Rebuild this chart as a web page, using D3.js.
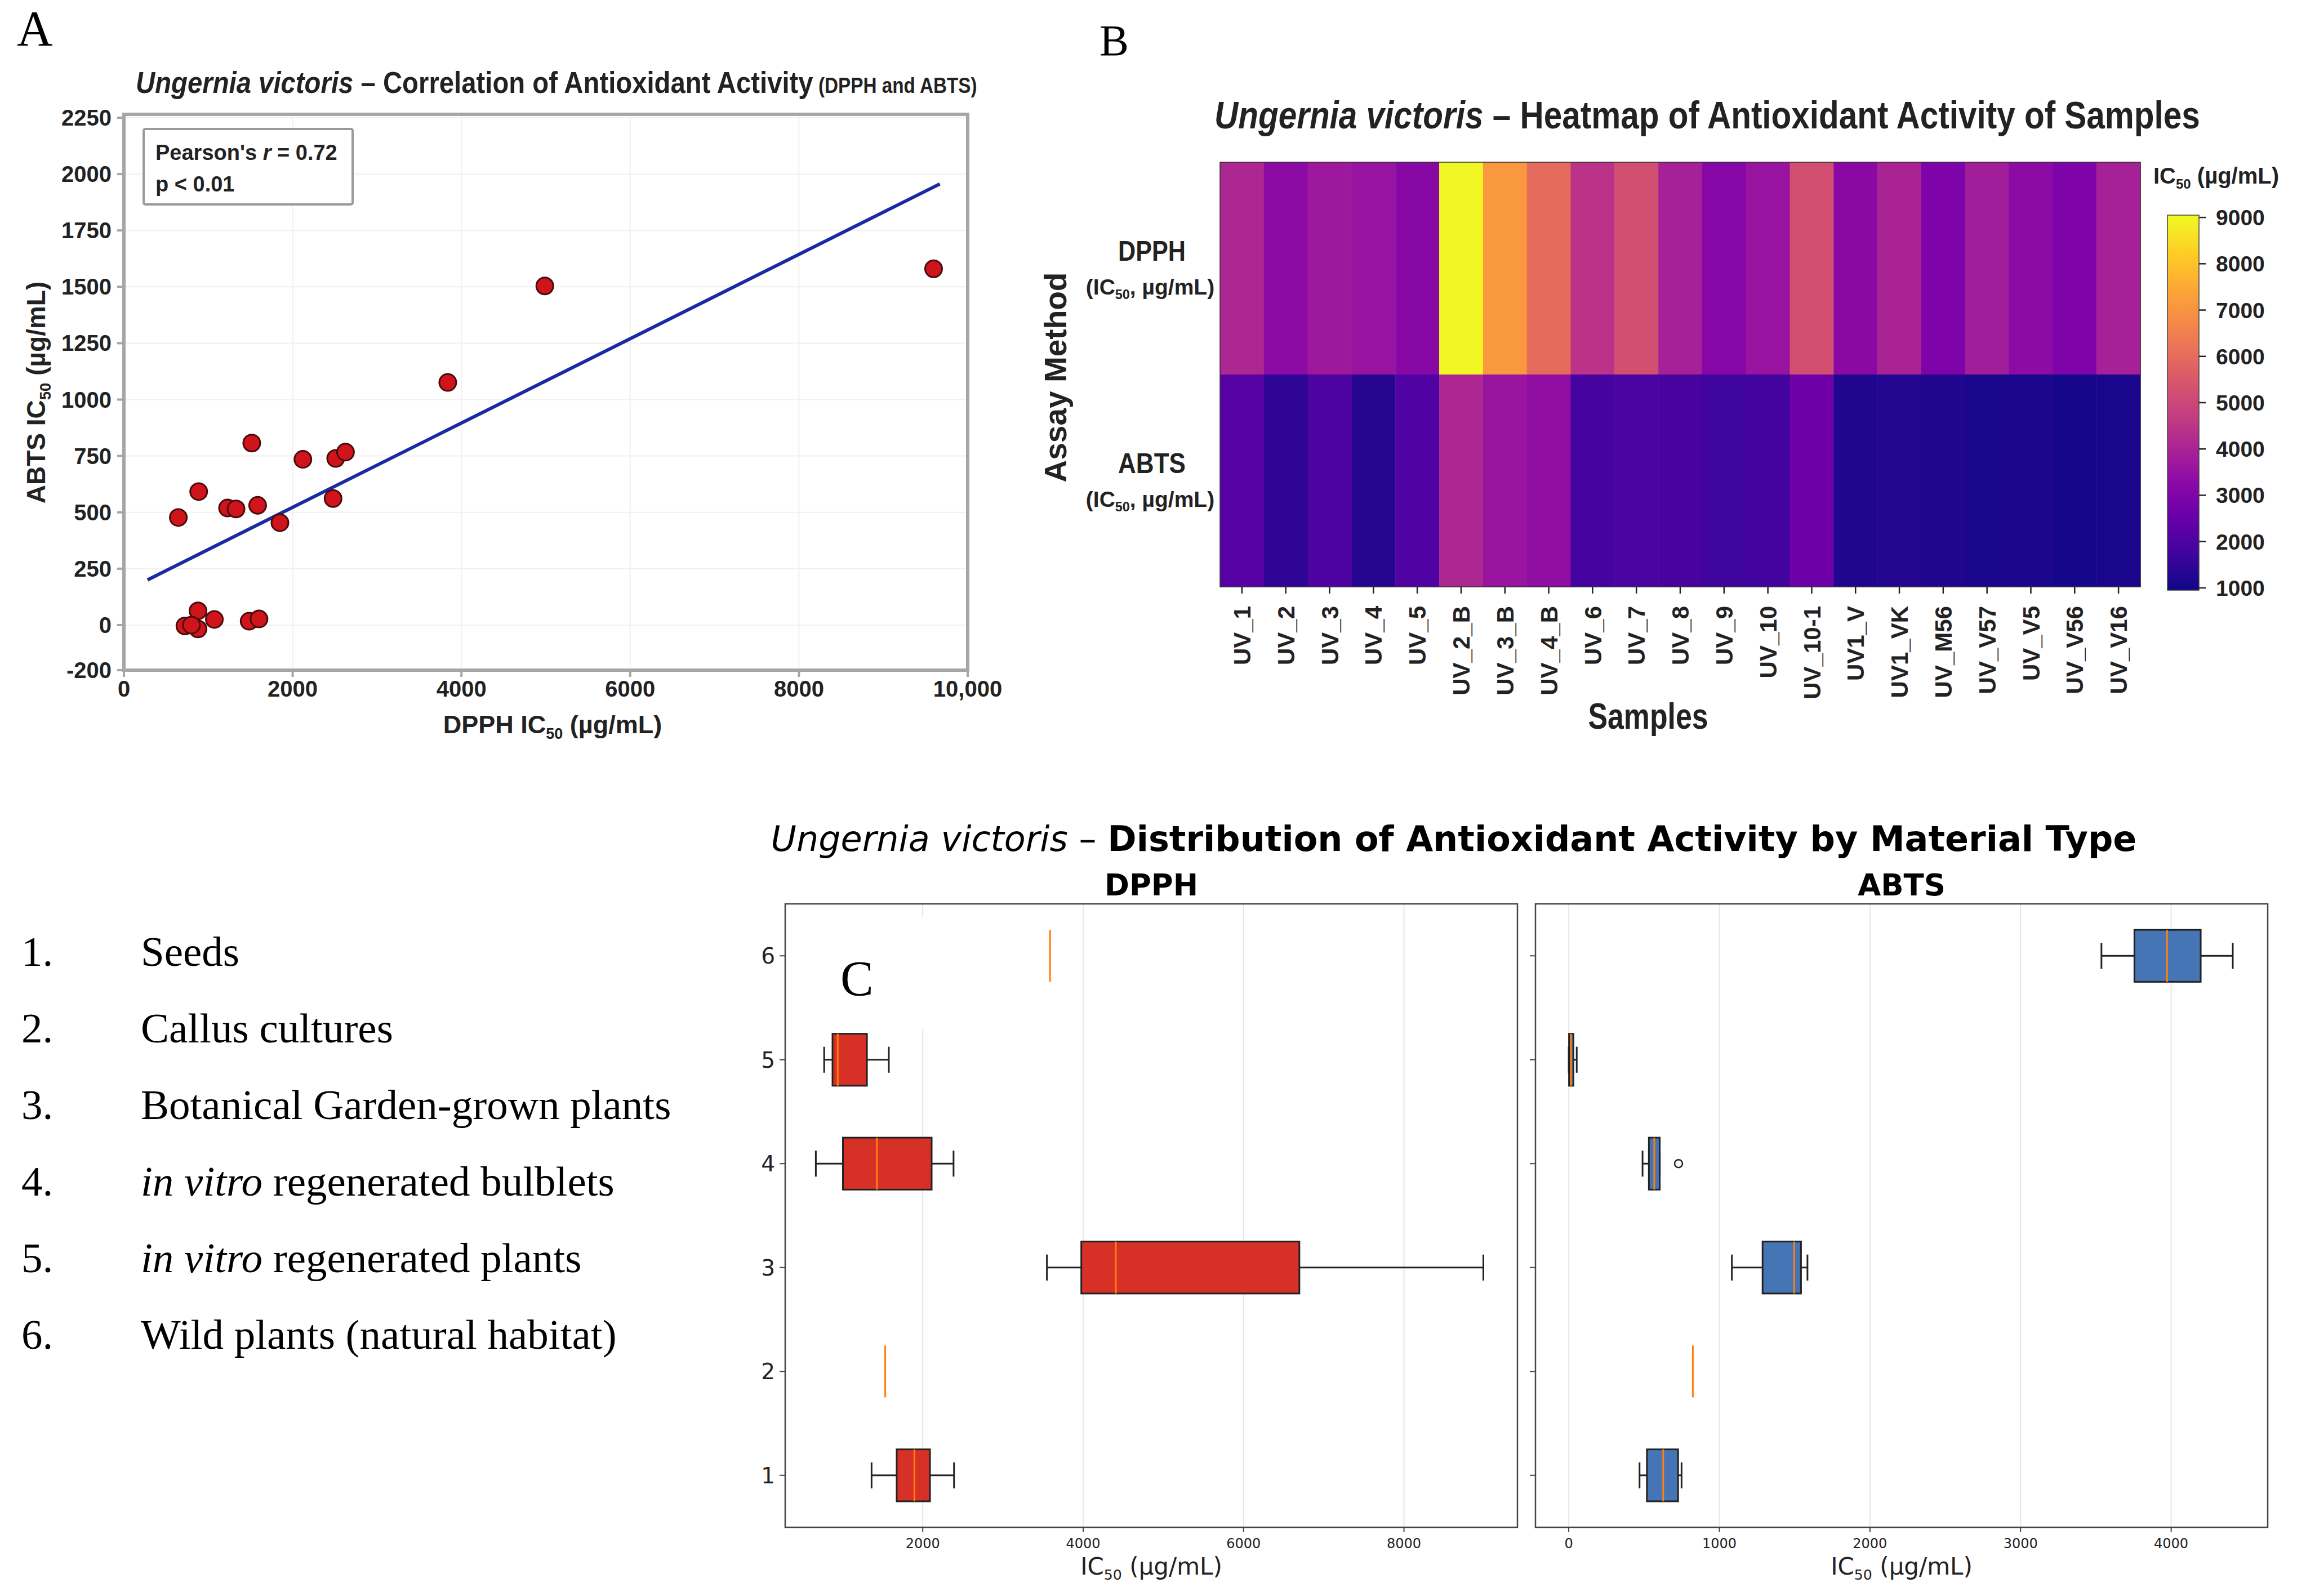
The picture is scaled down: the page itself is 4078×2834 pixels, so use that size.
<!DOCTYPE html>
<html>
<head>
<meta charset="utf-8">
<title>Ungernia victoris - antioxidant activity</title>
<script src="https://cdn.jsdelivr.net/npm/d3@7"></script>
<style>
  body { margin: 0; background: #fff; }
</style>
</head>
<body>
<script>
// ---------------- data ----------------
// A: scatter, one point per sample
var dpphScatter = [645, 886, 1515, 1228, 1329, 1585, 1849, 2121, 2479, 2510, 2626, 3838, 4988, 9596, 723, 878, 878, 1072, 1484, 1601, 800];
var abtsScatter = [477, 592, 807, 519, 515, 531, 454, 735, 561, 739, 767, 1076, 1504, 1580, -4, 63, -17, 25, 17, 27, 0];
var fitRange = [280, 9670];      // x extent of the fitted line
var fitSlope = 0.187;
var fitIntercept = 148;
var scatterXTicks = [0, 2000, 4000, 6000, 8000, 10000];
var scatterYTicks = [-200, 0, 250, 500, 750, 1000, 1250, 1500, 1750, 2000, 2250];

// B: heatmap
var samples = ["UV_1", "UV_2", "UV_3", "UV_4", "UV_5", "UV_2_B", "UV_3_B", "UV_4_B", "UV_6", "UV_7", "UV_8",
               "UV_9", "UV_10", "UV_10-1", "UV1_V", "UV1_VK", "UV_M56", "UV_V57", "UV_V5", "UV_V56", "UV_V16"];
var assays = ["DPPH", "ABTS"];
var heatDPPH = [4100, 3300, 3700, 3550, 3200, 9000, 7100, 6000, 4450, 5250, 3900,
                3150, 3550, 5250, 3250, 4000, 3000, 3800, 3300, 3000, 3900];
var heatABTS = [2160, 1440, 2000, 1280, 2080, 4100, 3600, 3400, 1850, 1900, 1870,
                1700, 1800, 2650, 1200, 1250, 1180, 1080, 1120, 1050, 1080];
var colorTicks = [1000, 2000, 3000, 4000, 5000, 6000, 7000, 8000, 9000];

// C: box plots by material type (low whisker, Q1, median, Q3, high whisker)
var materialTypes = [1, 2, 3, 4, 5, 6];
var materialItalic = ["", "", "", "in vitro", "in vitro", ""];
var materialText = ["Seeds", "Callus cultures", "Botanical Garden-grown plants",
                    " regenerated bulblets", " regenerated plants", "Wild plants (natural habitat)"];
var dpphLow = [1362, 1532, 3548, 667, 771, 3587];
var dpphQ1  = [1675, 1532, 3977, 1005, 875, 3587];
var dpphMed = [1896, 1532, 4407, 1428, 940, 3587];
var dpphQ3  = [2090, 1532, 6696, 2111, 1304, 3587];
var dpphHigh = [2390, 1532, 8990, 2384, 1577, 3587];
var abtsLow = [470, 824, 1083, 490, 0, 3537];
var abtsQ1  = [519, 824, 1287, 532, 2, 3756];
var abtsMed = [627, 824, 1497, 568, 15, 3973];
var abtsQ3  = [726, 824, 1542, 604, 31, 4196];
var abtsHigh = [749, 824, 1585, 604, 53, 4409];
var abtsOutlierType = [4];
var abtsOutlierValue = [729];
var dpphTicks = [2000, 4000, 6000, 8000];
var abtsTicks = [0, 1000, 2000, 3000, 4000];

// ---------------- setup ----------------
var W = 4078, H = 2834;
var SANS = "'Liberation Sans', Arial, sans-serif";
var DEJA = "'DejaVu Sans', sans-serif";
var SERIF = "'Liberation Serif', 'Times New Roman', serif";

var svg = d3.select("body").append("svg")
    .attr("width", W)
    .attr("height", H);
svg.append("rect").attr("width", W).attr("height", H).attr("fill", "#fff");

// text with IC50 subscript
function icText(sel, before, after, size) {
    sel.append("tspan").text(before + "IC");
    sel.append("tspan").text("50").attr("font-size", size * 0.6).attr("dy", size * 0.22);
    sel.append("tspan").text(after).attr("dy", -size * 0.22);
    return sel;
}

// the A/B figures use a condensed bold face: squeeze text horizontally to a given width
function squeeze(sel, x, y, width) {
    var len = sel.node().getComputedTextLength();
    sel.attr("transform", "translate(" + x + "," + y + ") scale(" + (width / len) + ",1)");
    return sel;
}

// panel letters
svg.append("text").text("A").attr("x", 30).attr("y", 80)
    .attr("font-family", SERIF).attr("font-size", 88);
svg.append("text").text("B").attr("x", 1952).attr("y", 98)
    .attr("font-family", SERIF).attr("font-size", 78);

// =============== PANEL A: scatter ===============
var gA = svg.append("g");
var xA = d3.scaleLinear().domain([0, 10000]).range([220, 1718]);
var yA = d3.scaleLinear().domain([-200, 2265]).range([1190, 203]);

// faint grid
gA.selectAll("line.gx").data(scatterXTicks.slice(1, -1)).enter().append("line")
    .attr("x1", xA).attr("x2", xA).attr("y1", yA(-200)).attr("y2", yA(2265))
    .attr("stroke", "#f0f0f0").attr("stroke-width", 2);
gA.selectAll("line.gy").data(scatterYTicks.slice(1)).enter().append("line")
    .attr("x1", xA(0)).attr("x2", xA(10000)).attr("y1", yA).attr("y2", yA)
    .attr("stroke", "#f0f0f0").attr("stroke-width", 2);

gA.append("rect")
    .attr("x", xA(0)).attr("y", yA(2265))
    .attr("width", xA(10000) - xA(0)).attr("height", yA(-200) - yA(2265))
    .attr("fill", "none").attr("stroke", "#a6a6a6").attr("stroke-width", 6);

// ticks
gA.selectAll("line.ty").data(scatterYTicks).enter().append("line")
    .attr("x1", xA(0) - 12).attr("x2", xA(0)).attr("y1", yA).attr("y2", yA)
    .attr("stroke", "#a6a6a6").attr("stroke-width", 4);
gA.selectAll("text.ty").data(scatterYTicks).enter().append("text")
    .text(function(d) { return d; })
    .attr("x", xA(0) - 22).attr("y", function(d) { return yA(d); })
    .attr("dy", "0.35em").attr("text-anchor", "end")
    .attr("font-family", SANS).attr("font-weight", "bold").attr("font-size", 40).attr("fill", "#222");
gA.selectAll("line.tx").data(scatterXTicks).enter().append("line")
    .attr("x1", xA).attr("x2", xA).attr("y1", yA(-200)).attr("y2", yA(-200) + 12)
    .attr("stroke", "#a6a6a6").attr("stroke-width", 4);
gA.selectAll("text.tx").data(scatterXTicks).enter().append("text")
    .text(function(d) { return d >= 10000 ? d3.format(",")(d) : d; })
    .attr("x", xA).attr("y", 1237).attr("text-anchor", "middle")
    .attr("font-family", SANS).attr("font-weight", "bold").attr("font-size", 40).attr("fill", "#222");

// regression line
gA.append("line")
    .attr("x1", xA(fitRange[0])).attr("y1", yA(fitIntercept + fitSlope * fitRange[0]))
    .attr("x2", xA(fitRange[1])).attr("y2", yA(fitIntercept + fitSlope * fitRange[1]))
    .attr("stroke", "#1c2aa0").attr("stroke-width", 6);

// points
gA.selectAll("circle").data(dpphScatter).enter().append("circle")
    .attr("cx", function(d) { return xA(d); })
    .attr("cy", function(d, i) { return yA(abtsScatter[i]); })
    .attr("r", 15)
    .attr("fill", "#d0141c").attr("stroke", "#4a0a0a").attr("stroke-width", 3);

// stats box
gA.append("rect").attr("x", 255).attr("y", 229).attr("width", 371).attr("height", 134)
    .attr("fill", "#fff").attr("stroke", "#9a9a9a").attr("stroke-width", 4).attr("rx", 3);
var pr = gA.append("text").attr("x", 276).attr("y", 284)
    .attr("font-family", SANS).attr("font-weight", "bold").attr("font-size", 38).attr("fill", "#222");
pr.append("tspan").text("Pearson's ");
pr.append("tspan").text("r").attr("font-style", "italic");
pr.append("tspan").text(" = 0.72");
gA.append("text").text("p < 0.01").attr("x", 276).attr("y", 340)
    .attr("font-family", SANS).attr("font-weight", "bold").attr("font-size", 38).attr("fill", "#222");

// title
var tA = gA.append("text")
    .attr("font-family", SANS).attr("font-weight", "bold").attr("font-size", 54).attr("fill", "#222");
tA.append("tspan").text("Ungernia victoris").attr("font-style", "italic");
tA.append("tspan").text(" \u2013 Correlation of Antioxidant Activity");
tA.append("tspan").text(" (DPPH and ABTS)").attr("font-size", 38);
squeeze(tA, 241, 165, 1494);

icText(gA.append("text").attr("x", 981).attr("y", 1302).attr("text-anchor", "middle")
    .attr("font-family", SANS).attr("font-weight", "bold").attr("font-size", 45).attr("fill", "#222"),
    "DPPH ", " (\u00b5g/mL)", 45);
icText(gA.append("text").attr("transform", "translate(80,697) rotate(-90)").attr("text-anchor", "middle")
    .attr("font-family", SANS).attr("font-weight", "bold").attr("font-size", 46).attr("fill", "#222"),
    "ABTS ", "  (\u00b5g/mL)", 46);

// =============== PANEL B: heatmap ===============
var gB = svg.append("g");
var xB = d3.scaleBand().domain(samples).range([2166, 3800]);
var yB = d3.scaleBand().domain(assays).range([288, 1042]);
var color = d3.scaleSequential(d3.interpolatePlasma).domain([950, 9050]);

var cells = [];
samples.forEach(function(s, i) {
    cells.push({ sample: s, assay: "DPPH", value: heatDPPH[i] });
    cells.push({ sample: s, assay: "ABTS", value: heatABTS[i] });
});
gB.selectAll("rect.cell").data(cells).enter().append("rect")
    .attr("class", "cell")
    .attr("x", function(d) { return xB(d.sample); })
    .attr("y", function(d) { return yB(d.assay); })
    .attr("width", xB.bandwidth() + 0.5)
    .attr("height", yB.bandwidth() + 0.5)
    .attr("fill", function(d) { return color(d.value); });
gB.append("rect").attr("x", 2166).attr("y", 288).attr("width", 1634).attr("height", 754)
    .attr("fill", "none").attr("stroke", "#333").attr("stroke-width", 1.5);

// column ticks + labels
gB.selectAll("line.ct").data(samples).enter().append("line")
    .attr("x1", function(d) { return xB(d) + xB.bandwidth() / 2; })
    .attr("x2", function(d) { return xB(d) + xB.bandwidth() / 2; })
    .attr("y1", 1042).attr("y2", 1054).attr("stroke", "#222").attr("stroke-width", 2.5);
gB.selectAll("text.cl").data(samples).enter().append("text")
    .text(function(d) { return d; })
    .attr("transform", function(d) {
        return "translate(" + (xB(d) + xB.bandwidth() / 2) + ",1076) rotate(-90)";
    })
    .attr("dy", "0.36em").attr("text-anchor", "end")
    .attr("font-family", SANS).attr("font-weight", "bold").attr("font-size", 42).attr("fill", "#222");

// row labels
assays.forEach(function(a) {
    var cy = yB(a) + yB.bandwidth() / 2;
    var rl = gB.append("text").text(a).attr("text-anchor", "middle")
        .attr("font-family", SANS).attr("font-weight", "bold").attr("font-size", 50).attr("fill", "#222");
    squeeze(rl, 2045, cy - 14, 120);
    icText(gB.append("text").attr("x", 2042).attr("y", cy + 46).attr("text-anchor", "middle")
        .attr("font-family", SANS).attr("font-weight", "bold").attr("font-size", 39).attr("fill", "#222"),
        "(", ", \u00b5g/mL)", 39);
});

gB.append("text").text("Assay Method")
    .attr("transform", "translate(1893,670) rotate(-90)").attr("text-anchor", "middle")
    .attr("font-family", SANS).attr("font-weight", "bold").attr("font-size", 55).attr("fill", "#222");
var sx = gB.append("text").text("Samples").attr("text-anchor", "middle")
    .attr("font-family", SANS).attr("font-weight", "bold").attr("font-size", 64).attr("fill", "#222");
squeeze(sx, 2926, 1294, 213);

var tB = gB.append("text")
    .attr("font-family", SANS).attr("font-weight", "bold").attr("font-size", 68).attr("fill", "#222");
tB.append("tspan").text("Ungernia victoris").attr("font-style", "italic");
tB.append("tspan").text(" \u2013 Heatmap of Antioxidant Activity of Samples");
squeeze(tB, 2156, 228, 1750);

// colorbar
var cbY = d3.scaleLinear().domain([950, 9050]).range([1048, 382]);
var grad = svg.append("defs").append("linearGradient").attr("id", "plasma")
    .attr("x1", 0).attr("y1", 1).attr("x2", 0).attr("y2", 0);
d3.range(0, 1.0001, 0.05).forEach(function(t) {
    grad.append("stop").attr("offset", t).attr("stop-color", d3.interpolatePlasma(t));
});
gB.append("rect").attr("x", 3848).attr("y", cbY(9050)).attr("width", 56)
    .attr("height", cbY(950) - cbY(9050))
    .attr("fill", "url(#plasma)").attr("stroke", "#444").attr("stroke-width", 1.5);
gB.selectAll("line.cb").data(colorTicks).enter().append("line")
    .attr("x1", 3904).attr("x2", 3916).attr("y1", cbY).attr("y2", cbY)
    .attr("stroke", "#222").attr("stroke-width", 2.5);
gB.selectAll("text.cb").data(colorTicks).enter().append("text")
    .text(function(d) { return d; })
    .attr("x", 3934).attr("y", cbY).attr("dy", "0.36em")
    .attr("font-family", SANS).attr("font-weight", "bold").attr("font-size", 39).attr("fill", "#222");
icText(gB.append("text").attr("x", 3823).attr("y", 326)
    .attr("font-family", SANS).attr("font-weight", "bold").attr("font-size", 40).attr("fill", "#222"),
    "", " (\u00b5g/mL)", 40);

// =============== PANEL C: box plots ===============
var gC = svg.append("g");
var yC = d3.scaleLinear().domain([0.5, 6.5]).range([2712, 1605]);
var unit = yC(0) - yC(1);

var tC = gC.append("text").attr("x", 2581).attr("y", 1511).attr("text-anchor", "middle")
    .attr("font-family", DEJA).attr("font-size", 62).attr("fill", "#000");
tC.append("tspan").text("Ungernia victoris").attr("font-style", "italic");
tC.append("tspan").text(" \u2013 ");
tC.append("tspan").text("Distribution of Antioxidant Activity by Material Type").attr("font-weight", "bold");

function boxPanel(x0, x1, domain, ticks, stats, fill, title, showY) {
    var g = gC.append("g");
    var x = d3.scaleLinear().domain(domain).range([x0, x1]);

    g.selectAll("line.grid").data(ticks).enter().append("line")
        .attr("x1", x).attr("x2", x).attr("y1", 1605).attr("y2", 2712)
        .attr("stroke", "#e6e6e6").attr("stroke-width", 2);

    var half = unit * 0.25, cap = unit * 0.125;
    materialTypes.forEach(function(m, i) {
        var cy = yC(m);
        var lo = stats[0][i], q1 = stats[1][i], md = stats[2][i], q3 = stats[3][i], hi = stats[4][i];
        if (hi > lo) {
            g.append("line").attr("x1", x(lo)).attr("x2", x(q1)).attr("y1", cy).attr("y2", cy)
                .attr("stroke", "#222").attr("stroke-width", 3);
            g.append("line").attr("x1", x(q3)).attr("x2", x(hi)).attr("y1", cy).attr("y2", cy)
                .attr("stroke", "#222").attr("stroke-width", 3);
            [lo, hi].forEach(function(v) {
                g.append("line").attr("x1", x(v)).attr("x2", x(v)).attr("y1", cy - cap).attr("y2", cy + cap)
                    .attr("stroke", "#222").attr("stroke-width", 3);
            });
        }
        if (q3 > q1) {
            g.append("rect").attr("x", x(q1)).attr("y", cy - half)
                .attr("width", x(q3) - x(q1)).attr("height", half * 2)
                .attr("fill", fill).attr("stroke", "#222").attr("stroke-width", 3);
        }
        g.append("line").attr("x1", x(md)).attr("x2", x(md)).attr("y1", cy - half).attr("y2", cy + half)
            .attr("stroke", "#ff7f0e").attr("stroke-width", 3);
    });

    g.append("rect").attr("x", x0).attr("y", 1605).attr("width", x1 - x0).attr("height", 2712 - 1605)
        .attr("fill", "none").attr("stroke", "#444").attr("stroke-width", 2.5);

    g.selectAll("line.yt").data(materialTypes).enter().append("line")
        .attr("x1", x0 - 10).attr("x2", x0).attr("y1", yC).attr("y2", yC)
        .attr("stroke", "#444").attr("stroke-width", 2);
    if (showY) {
        g.selectAll("text.yt").data(materialTypes).enter().append("text")
            .text(function(d) { return d; })
            .attr("x", x0 - 18).attr("y", yC).attr("dy", "0.36em").attr("text-anchor", "end")
            .attr("font-family", DEJA).attr("font-size", 39).attr("fill", "#222");
    }
    g.selectAll("line.xt").data(ticks).enter().append("line")
        .attr("x1", x).attr("x2", x).attr("y1", 2712).attr("y2", 2720)
        .attr("stroke", "#444").attr("stroke-width", 2);
    g.selectAll("text.xt").data(ticks).enter().append("text")
        .text(function(d) { return d; })
        .attr("x", x).attr("y", 2749).attr("text-anchor", "middle")
        .attr("font-family", DEJA).attr("font-size", 24).attr("fill", "#222");
    icText(g.append("text").attr("x", (x0 + x1) / 2).attr("y", 2796).attr("text-anchor", "middle")
        .attr("font-family", DEJA).attr("font-size", 42).attr("fill", "#222"),
        "", " (\u00b5g/mL)", 42);
    g.append("text").text(title).attr("x", (x0 + x1) / 2).attr("y", 1590).attr("text-anchor", "middle")
        .attr("font-family", DEJA).attr("font-weight", "bold").attr("font-size", 53).attr("fill", "#000");
    return { g: g, x: x };
}

boxPanel(1394, 2694, [285, 9415], dpphTicks,
    [dpphLow, dpphQ1, dpphMed, dpphQ3, dpphHigh], "#d73027", "DPPH", true);
var ab = boxPanel(2726, 4026, [-221, 4641], abtsTicks,
    [abtsLow, abtsQ1, abtsMed, abtsQ3, abtsHigh], "#4575b4", "ABTS", false);
ab.g.selectAll("circle.out").data(abtsOutlierValue).enter().append("circle")
    .attr("cx", function(d) { return ab.x(d); })
    .attr("cy", function(d, i) { return yC(abtsOutlierType[i]); })
    .attr("r", 7).attr("fill", "none").attr("stroke", "#222").attr("stroke-width", 2.5);

// "C" label pasted on a white patch
svg.append("rect").attr("x", 1445).attr("y", 1628).attr("width", 210).attr("height", 200).attr("fill", "#fff");
svg.append("text").text("C").attr("x", 1492).attr("y", 1767)
    .attr("font-family", SERIF).attr("font-size", 88);

// legend list
var leg = svg.append("g");
materialTypes.forEach(function(m, i) {
    var yy = 1715 + i * 136;
    leg.append("text").text(m + ".").attr("x", 38).attr("y", yy)
        .attr("font-family", SERIF).attr("font-size", 75).attr("fill", "#000");
    var t = leg.append("text").attr("x", 250).attr("y", yy)
        .attr("font-family", SERIF).attr("font-size", 75).attr("fill", "#000");
    if (materialItalic[i]) t.append("tspan").text(materialItalic[i]).attr("font-style", "italic");
    t.append("tspan").text(materialText[i]);
});
</script>
</body>
</html>
